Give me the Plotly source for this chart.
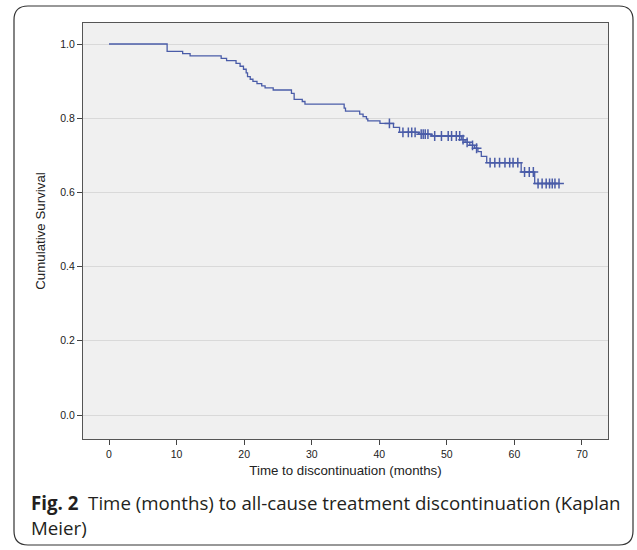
import plotly.graph_objects as go

# Kaplan-Meier step data (time in months, survival after the step)
step_times = [0, 8.6, 10.9, 12.0, 16.6, 17.4, 18.8, 19.4, 19.9, 20.3, 20.5, 20.9, 21.3,
              21.9, 22.6, 23.1, 24.3, 27.0, 27.4, 28.6, 29.0, 34.8, 35.0, 37.1, 37.6,
              38.1, 38.3, 40.1, 42.1, 43.0, 45.8, 47.7, 52.2, 52.7, 53.4, 54.1, 54.6,
              55.1, 55.9, 61.0, 63.0, 66.6]
step_surv = [1.0, 0.980, 0.974, 0.968, 0.961, 0.955, 0.948, 0.940, 0.932, 0.922, 0.912,
             0.905, 0.899, 0.893, 0.887, 0.882, 0.876, 0.867, 0.851, 0.845, 0.838, 0.827,
             0.819, 0.811, 0.804, 0.798, 0.793, 0.786, 0.775, 0.762, 0.757, 0.752, 0.742,
             0.735, 0.727, 0.719, 0.710, 0.697, 0.680, 0.655, 0.624, 0.624]

# Censored observations
censor_times = [41.5, 43.5, 44.3, 44.8, 45.3, 46.2, 46.5, 46.8, 47.2, 48.2, 49.2, 50.2,
                50.7, 51.4, 51.9, 52.4, 53.0, 53.8, 54.4, 56.4, 57.1, 57.8, 58.6, 59.3,
                59.8, 60.5, 61.5, 62.2, 62.8, 63.5, 64.1, 64.7, 65.2, 65.6, 66.0, 66.6]
censor_surv = [0.786, 0.762, 0.762, 0.762, 0.762, 0.757, 0.757, 0.757, 0.757, 0.752, 0.752,
               0.752, 0.752, 0.752, 0.752, 0.742, 0.735, 0.727, 0.719, 0.680, 0.680, 0.680,
               0.680, 0.680, 0.680, 0.680, 0.655, 0.655, 0.655, 0.624, 0.624, 0.624, 0.624,
               0.624, 0.624, 0.624]

x_ticks = [0, 10, 20, 30, 40, 50, 60, 70]
y_ticks = [0.0, 0.2, 0.4, 0.6, 0.8, 1.0]
y_tick_labels = ["0.0", "0.2", "0.4", "0.6", "0.8", "1.0"]

LINE = "#4a5ca8"
W, H = 637, 550
L, R, T, B = 83, 608, 23, 439  # plot area in page pixels

fig = go.Figure()
fig.add_trace(go.Scatter(x=step_times, y=step_surv, mode="lines", line_shape="hv",
                         line=dict(color=LINE, width=1.3), hoverinfo="skip", showlegend=False))
fig.add_trace(go.Scatter(x=censor_times, y=censor_surv, mode="markers",
                         marker=dict(symbol="cross-thin", size=7,
                                     line=dict(color=LINE, width=1.5)),
                         showlegend=False))

def px(xp):
    return (xp - L) / (R - L)

def py(yp):
    return (B - yp) / (B - T)

# rounded card border (page pixel coordinates)
x0, x1, y0, y1, r = 14, 633, 6, 545, 14
path = (f"M {px(x0 + r)},{py(y0)} L {px(x1 - r)},{py(y0)} "
        f"Q {px(x1)},{py(y0)} {px(x1)},{py(y0 + r)} "
        f"L {px(x1)},{py(y1 - r)} Q {px(x1)},{py(y1)} {px(x1 - r)},{py(y1)} "
        f"L {px(x0 + r)},{py(y1)} Q {px(x0)},{py(y1)} {px(x0)},{py(y1 - r)} "
        f"L {px(x0)},{py(y0 + r)} Q {px(x0)},{py(y0)} {px(x0 + r)},{py(y0)} Z")
fig.add_shape(type="path", path=path, xref="paper", yref="paper",
              line=dict(color="#333333", width=1.2), layer="below")

fig.add_annotation(text="<b>Fig. 2</b>  Time (months) to all-cause treatment discontinuation (Kaplan",
                   xref="paper", yref="paper", x=px(29), y=py(503), xanchor="left", yanchor="middle",
                   showarrow=False, font=dict(family="Open Sans", size=18.7, color="#231f20"))
fig.add_annotation(text="Meier)",
                   xref="paper", yref="paper", x=px(29), y=py(527), xanchor="left", yanchor="middle",
                   showarrow=False, font=dict(family="Open Sans", size=18.7, color="#231f20"))

axis_font = dict(family="Liberation Sans, Arial", size=10.5, color="#222222")
title_font = dict(family="Liberation Sans, Arial", size=13.3, color="#222222")
fig.update_layout(
    width=W, height=H,
    margin=dict(l=L, r=W - R, t=T, b=H - B, pad=0),
    paper_bgcolor="white", plot_bgcolor="#f0f0f0",
    xaxis=dict(range=[-3.85, 73.85], tickvals=x_ticks, ticks="outside", ticklen=5,
               tickcolor="#444444", showgrid=False, zeroline=False, showline=True,
               linecolor="#555555", linewidth=1, mirror=True, tickfont=axis_font,
               title=dict(text="Time to discontinuation (months)", font=title_font,
                          standoff=7)),
    yaxis=dict(range=[-0.0647, 1.0566], tickvals=y_ticks, ticktext=y_tick_labels,
               ticks="outside", ticklen=5, tickcolor="#444444", showgrid=True,
               gridcolor="#d9d9d9", gridwidth=1, zeroline=False, showline=True,
               linecolor="#555555", linewidth=1, mirror=True, tickfont=axis_font,
               title=dict(text="Cumulative Survival", font=title_font, standoff=11)),
)

fig.write_html("out.html", config={"displayModeBar": False},
               post_script="document.body.style.margin='0px';document.body.style.overflow='hidden';")
